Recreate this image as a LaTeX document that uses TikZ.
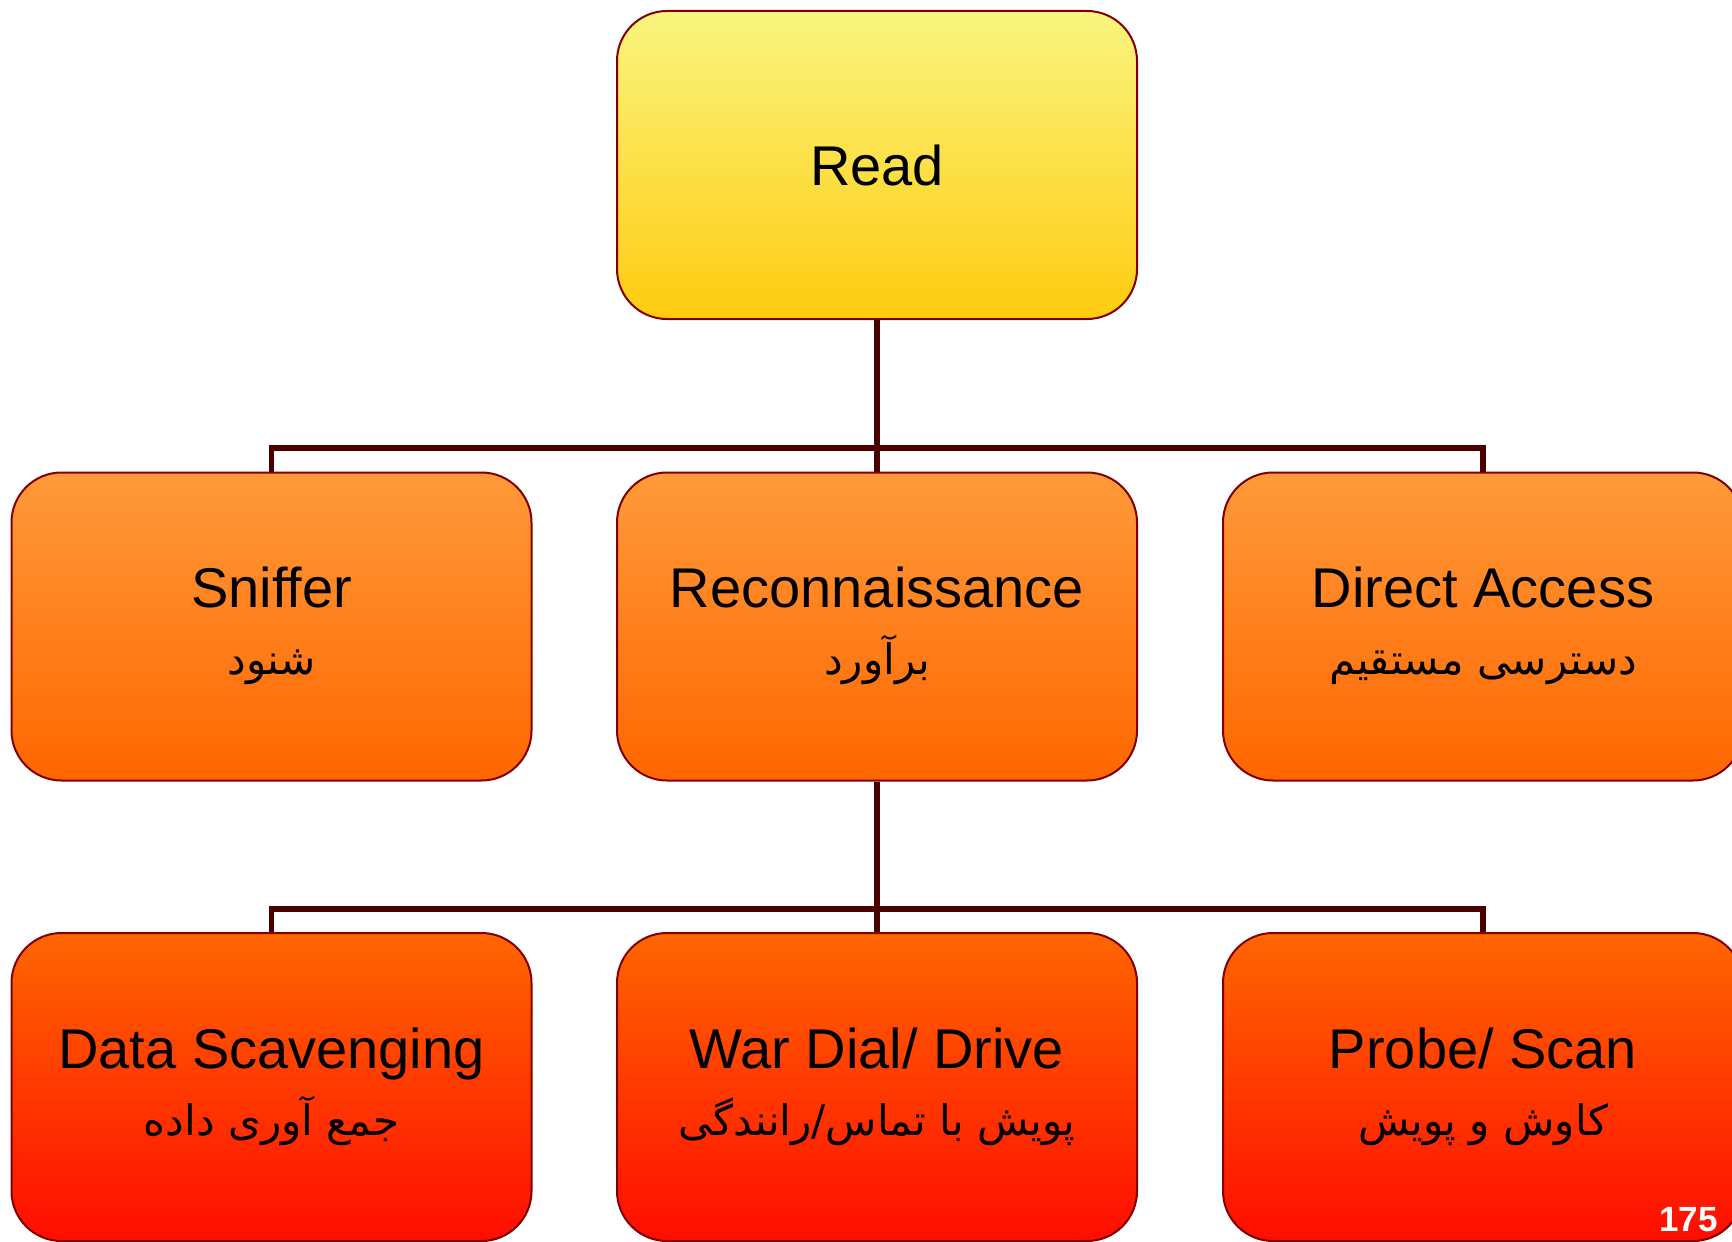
\documentclass[tikz,border=0pt]{standalone}
\usepackage{fontspec}
\setmainfont{Liberation Sans}
\newfontfamily\fafont[Script=Arabic]{DejaVu Sans}
\TeXXeTstate=1
\newcommand{\fa}[1]{{\fafont\fontsize{21}{30}\selectfont\beginR #1\endR}}

\definecolor{rdtop}{HTML}{F9F57F}
\definecolor{rdbot}{HTML}{FFCB0F}
\definecolor{mdtop}{HTML}{FF9A3A}
\definecolor{mdbot}{HTML}{FF6600}
\definecolor{lwtop}{HTML}{FF6600}
\definecolor{lwbot}{HTML}{FF0D00}
\definecolor{edge}{HTML}{800000}
\definecolor{wire}{HTML}{4D0000}

\tikzset{
  box/.style={draw=edge, line width=1pt, rounded corners=25pt,
    minimum width=260pt, minimum height=154pt, inner sep=0pt},
  toplevel/.style={box, top color=rdtop, bottom color=rdbot},
  midlevel/.style={box, top color=mdtop, bottom color=mdbot},
  lowlevel/.style={box, top color=lwtop, bottom color=lwbot},
  entext/.style={anchor=base, inner sep=0pt, text=black,
    font=\fontsize{28}{34}\selectfont},
  fatext/.style={anchor=base, inner sep=0pt, text=black},
  wirestyle/.style={draw=wire, line width=2.8pt, line join=miter},
}

\begin{document}
\begin{tikzpicture}[x=0.5pt, y=-0.5pt]
\useasboundingbox (0,0) rectangle (1732,1241);

% boxes
\node[toplevel] (read)   at (877,165)    {};
\node[midlevel] (sniff)  at (271.5,626.5) {};
\node[midlevel] (recon)  at (877,626.5)   {};
\node[midlevel] (direct) at (1483,626.5)  {};
\node[lowlevel] (scav)   at (271.5,1087) {};
\node[lowlevel] (war)    at (877,1087)   {};
\node[lowlevel] (probe)  at (1483,1087)  {};

% labels: English line above, Persian line below
\node[entext] (read-en) at ([yshift=-10pt]read.center) {Read};

\node[entext] (sniff-en)  at ([yshift=9.5pt]sniff.center)  {Sniffer};
\node[fatext] (sniff-fa)  at ([yshift=-24pt]sniff.center)  {\fa{شنود}};
\node[entext] (recon-en)  at ([yshift=9.5pt]recon.center)  {Reconnaissance};
\node[fatext] (recon-fa)  at ([yshift=-24pt]recon.center)  {\fa{برآورد}};
\node[entext] (direct-en) at ([yshift=9.5pt]direct.center) {Direct Access};
\node[fatext] (direct-fa) at ([yshift=-24pt]direct.center) {\fa{دسترسی مستقیم}};

\node[entext] (scav-en)  at ([yshift=9.5pt]scav.center)  {Data Scavenging};
\node[fatext] (scav-fa)  at ([yshift=-24pt]scav.center)  {\fa{جمع آوری داده}};
\node[entext] (war-en)   at ([yshift=9.5pt]war.center)   {War Dial/ Drive};
\node[fatext] (war-fa)   at ([yshift=-24pt]war.center)   {\fa{پویش با تماس/رانندگی}};
\node[entext] (probe-en) at ([yshift=9.5pt]probe.center) {Probe/ Scan};
\node[fatext] (probe-fa) at ([yshift=-24pt]probe.center) {\fa{کاوش و پویش}};

% org-chart connectors
\coordinate (j1) at (877,448);
\coordinate (j2) at (877,909);
\draw[wirestyle] (read.south) -- (j1) -- (recon.north);
\draw[wirestyle] (sniff.north) |- (j1) -| (direct.north);
\draw[wirestyle] (recon.south) -- (j2) -- (war.north);
\draw[wirestyle] (scav.north) |- (j2) -| (probe.north);

% page number
\node[anchor=base east, text=white, font=\bfseries\fontsize{17.5}{20}\selectfont, inner sep=0pt]
  (pg) at (1718,1231) {175};
\end{tikzpicture}
\end{document}
